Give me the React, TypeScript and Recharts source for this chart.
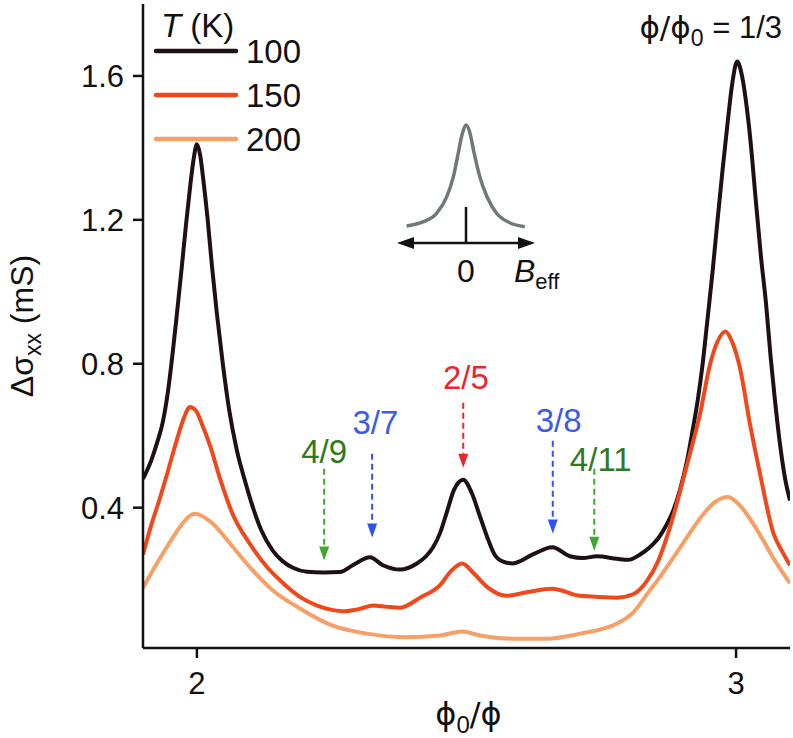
import { LineChart, Line, XAxis, YAxis, ReferenceLine, ReferenceDot, Legend } from "recharts";

const FONT = "'Liberation Sans', Arial, Helvetica, sans-serif";
const PHI_FONT = "'DejaVu Sans', 'Liberation Sans', sans-serif";
const INK = "#111";

// x = φ0/φ, y = Δσxx (mS)
const sigma100K: [number, number][] = [
  [1.9, 0.48], [1.915, 0.53], [1.926, 0.58], [1.937, 0.64], [1.946, 0.72], [1.955, 0.83], [1.963, 0.94],
  [1.972, 1.07], [1.98, 1.19], [1.988, 1.3], [1.994, 1.37], [2.0, 1.41], [2.006, 1.38], [2.012, 1.31],
  [2.02, 1.2], [2.028, 1.07], [2.037, 0.94], [2.048, 0.8], [2.06, 0.67], [2.074, 0.56], [2.09, 0.47],
  [2.104, 0.4], [2.12, 0.335], [2.141, 0.28], [2.16, 0.25], [2.178, 0.233], [2.204, 0.222], [2.235, 0.22],
  [2.265, 0.221], [2.289, 0.24], [2.321, 0.262], [2.345, 0.24], [2.377, 0.228], [2.408, 0.245], [2.425, 0.265],
  [2.438, 0.29], [2.451, 0.33], [2.464, 0.39], [2.477, 0.45], [2.494, 0.478], [2.51, 0.44], [2.524, 0.38],
  [2.538, 0.32], [2.552, 0.27], [2.568, 0.25], [2.586, 0.245], [2.623, 0.27], [2.659, 0.29], [2.692, 0.265],
  [2.716, 0.26], [2.742, 0.265], [2.779, 0.258], [2.8, 0.255], [2.822, 0.27], [2.84, 0.29], [2.853, 0.31],
  [2.87, 0.35], [2.883, 0.39], [2.896, 0.45], [2.909, 0.53], [2.92, 0.62], [2.929, 0.7], [2.938, 0.8],
  [2.946, 0.91], [2.956, 1.05], [2.965, 1.19], [2.975, 1.34], [2.985, 1.48], [2.993, 1.58], [3.002, 1.64],
  [3.011, 1.6], [3.02, 1.51], [3.028, 1.4], [3.035, 1.28], [3.046, 1.1], [3.056, 0.96], [3.064, 0.82],
  [3.072, 0.7], [3.082, 0.57], [3.091, 0.48], [3.1, 0.42],
];
const sigma150K: [number, number][] = [
  [1.9, 0.27], [1.915, 0.35], [1.93, 0.42], [1.944, 0.49], [1.963, 0.59], [1.976, 0.65], [1.987, 0.68],
  [1.998, 0.67], [2.01, 0.63], [2.025, 0.57], [2.043, 0.48], [2.067, 0.38], [2.098, 0.3], [2.13, 0.235],
  [2.16, 0.19], [2.191, 0.152], [2.223, 0.128], [2.25, 0.116], [2.271, 0.112], [2.3, 0.118], [2.327, 0.128],
  [2.35, 0.125], [2.377, 0.122], [2.414, 0.15], [2.451, 0.185], [2.472, 0.225], [2.492, 0.245], [2.512, 0.22],
  [2.538, 0.18], [2.575, 0.155], [2.612, 0.165], [2.659, 0.175], [2.711, 0.155], [2.779, 0.15], [2.81, 0.16],
  [2.835, 0.197], [2.855, 0.25], [2.872, 0.32], [2.888, 0.4], [2.902, 0.48], [2.918, 0.57], [2.933, 0.66],
  [2.952, 0.8], [2.965, 0.86], [2.98, 0.89], [2.993, 0.86], [3.007, 0.79], [3.026, 0.63], [3.045, 0.49],
  [3.069, 0.33], [3.085, 0.28], [3.1, 0.24],
];
const sigma200K: [number, number][] = [
  [1.9, 0.177], [1.92, 0.23], [1.944, 0.29], [1.968, 0.345], [1.985, 0.375], [1.996, 0.383], [2.012, 0.375],
  [2.03, 0.355], [2.067, 0.29], [2.104, 0.225], [2.141, 0.17], [2.191, 0.12], [2.252, 0.072], [2.315, 0.05],
  [2.39, 0.04], [2.451, 0.045], [2.492, 0.056], [2.525, 0.045], [2.586, 0.036], [2.649, 0.036], [2.711, 0.05],
  [2.779, 0.078], [2.81, 0.11], [2.835, 0.16], [2.86, 0.21], [2.883, 0.26], [2.91, 0.32], [2.933, 0.37],
  [2.96, 0.415], [2.985, 0.43], [3.008, 0.405], [3.032, 0.355], [3.05, 0.31], [3.069, 0.26], [3.1, 0.19],
];

const temperatures = ["100", "150", "200"];
const curveColors = ["#1f1113", "#f0481b", "#f6a068"];

const xTicks = [2, 3];
const yTicks = [0.4, 0.8, 1.2, 1.6];

// fractional states: label, arrow position (φ0/φ), arrow top/tip and label centre (mS)
const fracLabels = ["4/9", "3/7", "2/5", "3/8", "4/11"];
const fracX = [2.236, 2.325, 2.494, 2.66, 2.737];
const fracArrowTop = [0.508, 0.55, 0.692, 0.586, 0.508];
const fracArrowTip = [0.253, 0.317, 0.511, 0.328, 0.28];
const fracLabelX = [2.236, 2.331, 2.499, 2.671, 2.749];
const fracLabelY = [0.558, 0.6375, 0.7625, 0.644, 0.535];
const fracTextColors = ["#2f7a1f", "#3b5be8", "#e8262b", "#3b5be8", "#2f7a1f"];
const fracArrowColors = ["#3aa92f", "#2f52ee", "#e8262b", "#2f52ee", "#3aa92f"];

// inset sketch: single peak around B_eff = 0
const insetB = [-0.99, -0.71, -0.49, -0.32, -0.21, -0.13, -0.06, 0, 0.06, 0.13, 0.23, 0.35, 0.51, 0.73, 0.98];
const insetG = [0.17, 0.213, 0.297, 0.463, 0.663, 0.897, 1.097, 1.18, 1.113, 0.913, 0.663, 0.463, 0.297, 0.203, 0.163];
const insetAxisSpan = [-1.15, 1.15];
const insetTickTop = 0.36;

const toPoints = (pairs: [number, number][]) => pairs.map(([x, y]) => ({ x, y }));
const series = [sigma100K, sigma150K, sigma200K].map(toPoints);
const insetData = insetB.map((b, i) => ({ b, g: insetG[i] }));

function DashedArrow({ x1, y1, x2, y2, color }: any) {
  const head = 14;
  const half = 5;
  const top = Math.min(y1, y2);
  const tip = Math.max(y1, y2);
  return (
    <g>
      <line x1={x1} y1={top} x2={x2} y2={tip - head} stroke={color} strokeWidth={2} strokeDasharray="6 4" />
      <polygon points={`${x1 - half},${tip - head} ${x1 + half},${tip - head} ${x1},${tip}`} fill={color} />
    </g>
  );
}

function TempLegend({ payload }: any) {
  const items = payload || [];
  return (
    <svg width={320} height={165} style={{ display: "block" }}>
      <text x={161} y={37} fontSize={33} fontFamily={FONT} fill={INK}>
        <tspan fontStyle="italic">T</tspan> (K)
      </text>
      {items.map((it: any, i: number) => {
        const y = 51 + i * 44;
        return (
          <g key={it.value}>
            <line x1={156} x2={236} y1={y} y2={y} stroke={it.color} strokeWidth={4.5} strokeLinecap="round" />
            <text x={246} y={y + 12} fontSize={33} fontFamily={FONT} fill={INK}>
              {it.value}
            </text>
          </g>
        );
      })}
    </svg>
  );
}

function XLabel({ viewBox }: any) {
  const cx = viewBox.x + viewBox.width / 2 + 2;
  const y = viewBox.y + viewBox.height - 13;
  return (
    <text x={cx} y={y} textAnchor="middle" fontSize={32} fontFamily={PHI_FONT} fill={INK}>
      ϕ<tspan dy={8} fontSize={24} fontFamily={FONT}>0</tspan>
      <tspan dy={-8}>/ϕ</tspan>
    </text>
  );
}

function YLabel({ viewBox }: any) {
  const cx = 33;
  const cy = viewBox.y + viewBox.height / 2;
  return (
    <text
      x={cx}
      y={cy}
      transform={`rotate(-90, ${cx}, ${cy})`}
      textAnchor="middle"
      fontSize={32}
      fontFamily={FONT}
      fill={INK}
    >
      Δσ<tspan dy={8} fontSize={23}>xx</tspan>
      <tspan dy={-8}> (mS)</tspan>
    </text>
  );
}

function InsetAxis({ x1, y1, x2 }: any) {
  const head = 17;
  const half = 6;
  return (
    <g>
      <line x1={x1 + head - 2} x2={x2 - head + 2} y1={y1} y2={y1} stroke={INK} strokeWidth={2.5} />
      <polygon points={`${x1},${y1} ${x1 + head},${y1 - half} ${x1 + head},${y1 + half}`} fill={INK} />
      <polygon points={`${x2},${y1} ${x2 - head},${y1 - half} ${x2 - head},${y1 + half}`} fill={INK} />
      <text x={x2 - 21} y={y1 + 39} fontSize={32} fontFamily={FONT} fill={INK}>
        <tspan fontStyle="italic">B</tspan>
        <tspan dy={7} fontSize={22}>eff</tspan>
      </text>
    </g>
  );
}

function InsetTick({ x1, y1, y2 }: any) {
  const bottom = Math.max(y1, y2);
  return (
    <g>
      <line x1={x1} x2={x1} y1={y1} y2={y2} stroke={INK} strokeWidth={2.5} />
      <text x={x1} y={bottom + 39} textAnchor="middle" fontSize={32} fontFamily={FONT} fill={INK}>
        0
      </text>
    </g>
  );
}

export default function App() {
  const axisStroke = { stroke: INK, strokeWidth: 2.5 };
  const tickStyle = { fill: INK, fontSize: 31, fontFamily: FONT };
  return (
    <div style={{ position: "absolute", left: 0, top: 0, width: 793, height: 738, background: "#fff" }}>
      <LineChart width={793} height={738} margin={{ top: 4, right: 3, bottom: 0, left: 0 }}>
        <XAxis
          type="number"
          dataKey="x"
          domain={[1.9, 3.1]}
          ticks={xTicks}
          allowDataOverflow
          height={90}
          tick={tickStyle}
          tickSize={10}
          tickMargin={14}
          axisLine={axisStroke}
          tickLine={axisStroke}
          label={<XLabel />}
        />
        <XAxis
          xAxisId="top"
          orientation="top"
          type="number"
          domain={[1.9, 3.1]}
          height={0}
          tick={false}
          tickLine={false}
          axisLine={axisStroke}
        />
        <YAxis
          type="number"
          domain={[0.01, 1.8]}
          ticks={yTicks}
          allowDataOverflow
          width={143}
          tick={tickStyle}
          tickSize={10}
          tickMargin={9}
          tickFormatter={(v: number) => v.toFixed(1)}
          axisLine={axisStroke}
          tickLine={axisStroke}
          label={<YLabel />}
        />
        <YAxis
          yAxisId="right"
          orientation="right"
          type="number"
          domain={[0.01, 1.8]}
          width={0}
          tick={false}
          tickLine={false}
          axisLine={axisStroke}
        />
        {series.map((pts, i) => (
          <Line
            key={temperatures[i]}
            data={pts}
            dataKey="y"
            name={temperatures[i]}
            type="monotone"
            stroke={curveColors[i]}
            strokeWidth={4}
            dot={false}
            activeDot={false}
            isAnimationActive={false}
          />
        ))}
        {fracLabels.map((lab, i) => (
          <ReferenceLine
            key={`arrow-${lab}`}
            segment={[
              { x: fracX[i], y: fracArrowTop[i] },
              { x: fracX[i], y: fracArrowTip[i] },
            ]}
            shape={(p: any) => <DashedArrow {...p} color={fracArrowColors[i]} />}
          />
        ))}
        {fracLabels.map((lab, i) => (
          <ReferenceDot
            key={`label-${lab}`}
            x={fracLabelX[i]}
            y={fracLabelY[i]}
            r={0}
            fill="none"
            stroke="none"
            label={{ value: lab, position: "center", fill: fracTextColors[i], fontSize: 33, fontFamily: FONT }}
          />
        ))}
        <Legend
          layout="horizontal"
          verticalAlign="middle"
          align="center"
          content={<TempLegend />}
          wrapperStyle={{ left: 0, top: 0, width: 320, height: 165 }}
        />
      </LineChart>

      <svg width={793} height={738} style={{ position: "absolute", left: 0, top: 0, pointerEvents: "none" }}>
        <text x={782} y={38} textAnchor="end" fontSize={31} fontFamily={PHI_FONT} fill={INK}>
          ϕ/ϕ<tspan dy={8} fontSize={23} fontFamily={FONT}>0</tspan>
          <tspan dy={-8} fontFamily={FONT}> = 1/3</tspan>
        </text>
      </svg>

      <div style={{ position: "absolute", left: 390, top: 115 }}>
        <LineChart width={210} height={200} margin={{ top: 0, right: 0, bottom: 0, left: 0 }}>
          <XAxis type="number" dataKey="b" domain={[-1.2667, 2.2333]} hide />
          <YAxis type="number" domain={[-0.72, 1.28]} hide />
          <Line
            data={insetData}
            dataKey="g"
            type="monotone"
            stroke="#6f7a77"
            strokeWidth={3.5}
            dot={false}
            activeDot={false}
            isAnimationActive={false}
          />
          <ReferenceLine
            segment={[
              { x: insetAxisSpan[0], y: 0 },
              { x: insetAxisSpan[1], y: 0 },
            ]}
            shape={(p: any) => <InsetAxis {...p} />}
          />
          <ReferenceLine
            segment={[
              { x: 0, y: 0 },
              { x: 0, y: insetTickTop },
            ]}
            shape={(p: any) => <InsetTick {...p} />}
          />
        </LineChart>
      </div>
    </div>
  );
}
